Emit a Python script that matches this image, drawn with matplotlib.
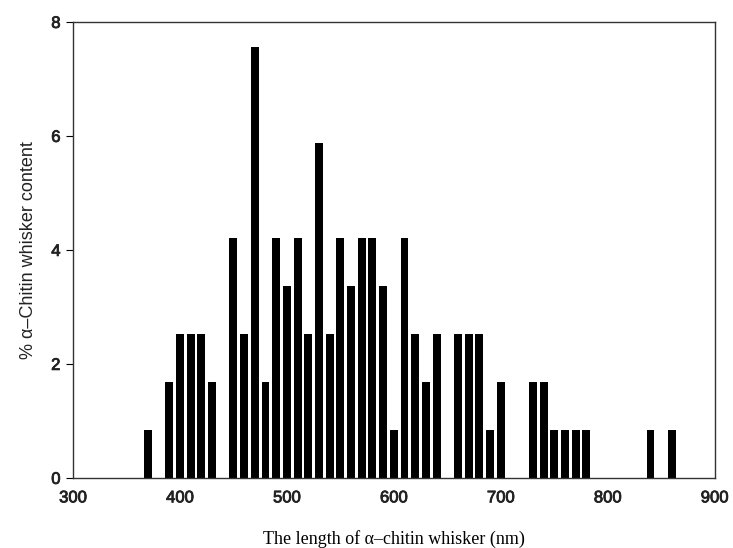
import numpy as np
import matplotlib.pyplot as plt
import matplotlib.patheffects as pe

# bin centres (nm) and % content
lengths = np.arange(370, 870, 10)
content = [0.84, 0, 1.68, 2.52, 2.52, 2.52, 1.68, 0, 4.2, 2.52,
           7.56, 1.68, 4.2, 3.36, 4.2, 2.52, 5.88, 2.52, 4.2, 3.36,
           4.2, 4.2, 3.36, 0.84, 4.2, 2.52, 1.68, 2.52, 0, 2.52,
           2.52, 2.52, 0.84, 1.68, 0, 0, 1.68, 1.68, 0.84, 0.84,
           0.84, 0.84, 0, 0, 0, 0, 0, 0.84, 0, 0.84]
xticks = [300, 400, 500, 600, 700, 800, 900]
yticks = [0, 2, 4, 6, 8]

fig = plt.figure(figsize=(7.33, 5.48), dpi=100)
ax = fig.add_axes([0.0996, 0.128, 0.8754, 0.832])

ax.bar(lengths, content, width=7.4, color='black', edgecolor='black', linewidth=0)

ax.set_xlim(300, 900)
ax.set_ylim(0, 8)
ax.set_xticks(xticks)
ax.set_yticks(yticks)
ax.tick_params(axis='x', length=0, pad=9)
ax.tick_params(axis='y', length=5, width=0.8, direction='out', pad=4)
thick = [pe.withStroke(linewidth=0.6, foreground='#222222')]
for lab in ax.get_xticklabels() + ax.get_yticklabels():
    lab.set_family('Liberation Sans')
    lab.set_fontsize(12)
    lab.set_color('#222222')
    lab.set_path_effects(thick)

for s in ax.spines.values():
    s.set_linewidth(1.0)
    s.set_color('#333333')

ax.set_ylabel('% \u03b1\u2013Chitin whisker content', family='Liberation Sans',
              fontsize=13, labelpad=10, color='#222222')
ax.set_xlabel('The length of \u03b1\u2013chitin whisker (nm)', family='Liberation Serif',
              fontsize=13, labelpad=18)

fig.savefig('out.png', dpi=100)
